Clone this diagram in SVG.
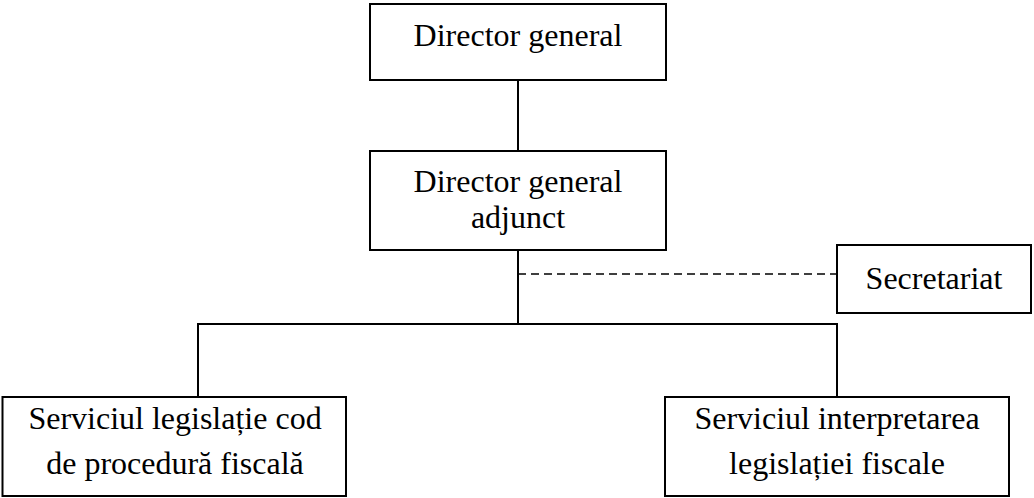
<svg xmlns="http://www.w3.org/2000/svg" width="1034" height="498" viewBox="0 0 1034 498">
<style>
.box{fill:#fff;stroke:#000;stroke-width:2}
.t{font-family:"Liberation Serif","Times New Roman",serif;font-size:32px;fill:#000;text-anchor:middle}
.c{stroke:#000;stroke-width:2;fill:none}
.d{stroke:#000;stroke-width:1.5;fill:none;stroke-dasharray:8 5}
</style>
<rect width="1034" height="498" fill="#fff"/>
<g id="connectors">
<line class="c" x1="518" y1="80" x2="518" y2="151"/>
<line class="c" x1="518" y1="250" x2="518" y2="324"/>
<line class="d" x1="518" y1="274" x2="837" y2="274"/>
<polyline class="c" points="198,397 198,324 837,324 837,397"/>
</g>
<g id="director-general">
<rect class="box" x="370" y="4" width="296" height="76"/>
<text class="t" x="518" y="46">Director general</text>
</g>
<g id="director-general-adjunct">
<rect class="box" x="370" y="151" width="296" height="99"/>
<text class="t" x="518" y="192">Director general</text>
<text class="t" x="518" y="228">adjunct</text>
</g>
<g id="secretariat">
<rect class="box" x="837" y="245" width="194" height="68"/>
<text class="t" x="934" y="289">Secretariat</text>
</g>
<g id="serviciul-legislatie">
<rect class="box" x="2.5" y="397" width="343.5" height="99"/>
<text class="t" x="175" y="429">Serviciul legislație cod</text>
<text class="t" x="175" y="474">de procedură fiscală</text>
</g>
<g id="serviciul-interpretarea">
<rect class="box" x="665" y="397" width="344" height="99"/>
<text class="t" x="837" y="429">Serviciul interpretarea</text>
<text class="t" x="837" y="474">legislației fiscale</text>
</g>
</svg>
